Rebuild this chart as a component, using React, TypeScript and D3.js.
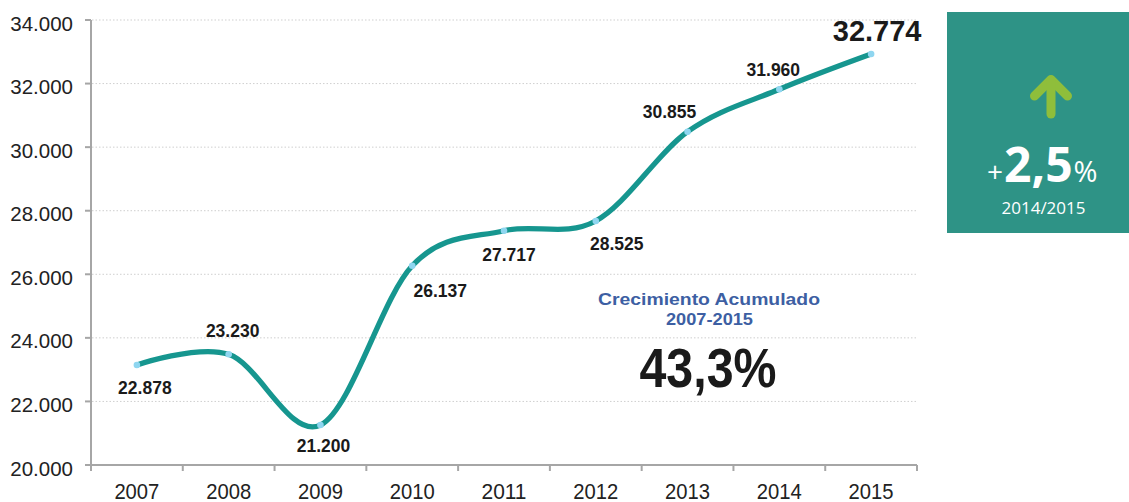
import React from "react";
import * as d3 from "d3";

const years = ["2007", "2008", "2009", "2010", "2011", "2012", "2013", "2014", "2015"];
// plotted positions of the line (as drawn in the reference)
const plotted = [23146, 23483, 21258, 26270, 27371, 27676, 30486, 31820, 32930];
// printed data labels
const valueLabels = ["22.878", "23.230", "21.200", "26.137", "27.717", "28.525", "30.855", "31.960", "32.774"];
const yTicks = [20000, 22000, 24000, 26000, 28000, 30000, 32000, 34000];
const yTickLabels = ["20.000", "22.000", "24.000", "26.000", "28.000", "30.000", "32.000", "34.000"];
const cumulativeTitle = ["Crecimiento Acumulado", "2007-2015"];
const cumulativeValue = "43,3%";
const yoyValue = "2,5";
const yoyPeriod = "2014/2015";

// label placement offsets relative to each point (dx to centre, dy to baseline)
const labelOffsets: [number, number][] = [
  [8, 29], [4, -17], [3, 27], [28, 31], [5, 30], [21, 29], [-18, -14], [-6, -13], [6, -13],
];

export default function App() {
  const W = 1129, H = 502;
  const x = d3.scaleBand<string>().domain(years).range([91, 917]);
  const y = d3.scaleLinear().domain([20000, 34000]).range([465, 20]);
  const cx = (yr: string) => (x(yr) as number) + x.bandwidth() / 2;
  const pts: [number, number][] = years.map((yr, i) => [cx(yr), y(plotted[i])]);
  const line = d3.line().curve(d3.curveCardinal.tension(0))(pts) as string;
  const font = "'Liberation Sans', Arial, sans-serif";
  const boxFont = "'Open Sans', sans-serif";

  return (
    <svg width={W} height={H} style={{ position: "absolute", left: 0, top: 0, background: "#fff" }}>
      {/* gridlines */}
      {yTicks.slice(1).map((t) => (
        <line key={t} x1={92} x2={917} y1={y(t)} y2={y(t)} stroke="#cfcfcf" strokeWidth={1} strokeDasharray="1.5,2" />
      ))}
      {/* axes */}
      <line x1={91} x2={91} y1={y(34000)} y2={471} stroke="#a6a6a6" strokeWidth={2} />
      <line x1={91} x2={917} y1={465} y2={465} stroke="#a6a6a6" strokeWidth={2} />
      {yTicks.map((t) => (
        <line key={"yt" + t} x1={85} x2={91} y1={y(t)} y2={y(t)} stroke="#a6a6a6" strokeWidth={2} />
      ))}
      {years.map((yr) => (
        <line key={"xt" + yr} x1={(x(yr) as number) + x.bandwidth()} x2={(x(yr) as number) + x.bandwidth()} y1={465} y2={471} stroke="#a6a6a6" strokeWidth={2} />
      ))}
      {yTicks.map((t, i) => (
        <text key={"yl" + t} x={73} y={y(t) + 10.5} textAnchor="end" fontFamily={font} fontSize={20.5} fill="#222">
          {yTickLabels[i]}
        </text>
      ))}
      {years.map((yr) => (
        <text key={"xl" + yr} x={cx(yr)} y={498.5} textAnchor="middle" fontFamily={font} fontSize={22} fill="#222" textLength={45} lengthAdjust="spacingAndGlyphs">
          {yr}
        </text>
      ))}
      {/* line */}
      <path d={line} fill="none" stroke="#16968f" strokeWidth={5.3} strokeLinecap="round" />
      {pts.map(([px, py], i) => (
        <circle key={"m" + i} cx={px} cy={py} r={3.3} fill="#8fd6f0" />
      ))}
      {/* data labels */}
      {pts.map(([px, py], i) => {
        const last = i === pts.length - 1;
        return (
          <text key={"dl" + i} x={px + labelOffsets[i][0]} y={py + labelOffsets[i][1]} textAnchor="middle" fontFamily={font} fontWeight="bold" fontSize={last ? 29 : 17.5} fill="#1a1a1a">
            {valueLabels[i]}
          </text>
        );
      })}
      {/* cumulative growth annotation */}
      <text x={709} y={305} textAnchor="middle" fontFamily={font} fontWeight="bold" fontSize={16.5} fill="#3d5fa3" textLength={222} lengthAdjust="spacingAndGlyphs">
        {cumulativeTitle[0]}
      </text>
      <text x={709.5} y={325} textAnchor="middle" fontFamily={font} fontWeight="bold" fontSize={16.5} fill="#3d5fa3" textLength={87} lengthAdjust="spacingAndGlyphs">
        {cumulativeTitle[1]}
      </text>
      <text x={708} y={386.5} textAnchor="middle" fontFamily={font} fontWeight="bold" fontSize={56} fill="#1a1a1a" textLength={137} lengthAdjust="spacingAndGlyphs">
        {cumulativeValue}
      </text>
      {/* year-over-year box */}
      <rect x={947} y={12} width={182} height={221} fill="#2e9386" />
      <g stroke="#8fbe3b" strokeWidth={9} strokeLinecap="round" strokeLinejoin="round" fill="none">
        <polyline points="1034.5,96 1051,79.5 1067.5,96" />
        <line x1={1051} y1={81} x2={1051} y2={114} />
      </g>
      <text x={987} y={181.5} fontFamily={boxFont} fill="#fff">
        <tspan fontSize={28}>+</tspan>
        <tspan fontSize={48} fontWeight="bold" dx={1}>{yoyValue}</tspan>
        <tspan fontSize={29} dx={1}>%</tspan>
      </text>
      <text x={1043.5} y={214.3} textAnchor="middle" fontFamily={boxFont} fontSize={17} fill="#fff">
        {yoyPeriod}
      </text>
    </svg>
  );
}
